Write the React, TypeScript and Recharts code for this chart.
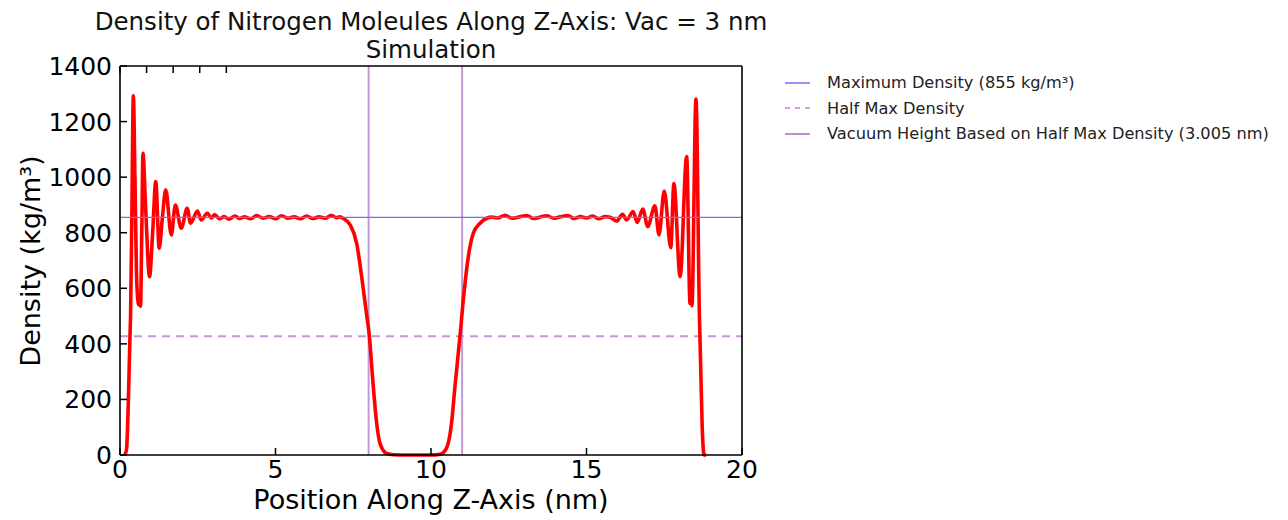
import React from 'react';
import { LineChart, Line, XAxis, YAxis, ReferenceLine } from 'recharts';

const positionNm = [
  0.15, 0.21, 0.27, 0.32, 0.34, 0.38, 0.43, 0.48, 0.54, 0.6, 0.63, 0.66, 0.7, 0.74, 0.82, 0.95,
  1.05, 1.15, 1.26, 1.36, 1.47, 1.65, 1.78, 1.97, 2.16, 2.27, 2.49, 2.61, 2.81, 2.94, 3.04,
  3.2, 3.35, 3.5, 3.7, 3.85, 4.0, 4.2, 4.4, 4.6, 4.8, 5.0, 5.2, 5.4, 5.6, 5.8, 6.0, 6.2, 6.4,
  6.6, 6.8, 6.95, 7.07, 7.17, 7.4, 7.61, 7.77, 7.91, 8.02, 8.12, 8.23, 8.36, 8.57, 8.8, 9.2,
  9.6, 10.0, 10.29, 10.5, 10.66, 10.77, 10.93, 11.06, 11.2, 11.36, 11.58, 11.79, 11.95, 12.15,
  12.38, 12.6, 12.85, 13.08, 13.3, 13.5, 13.72, 13.95, 14.15, 14.4, 14.6, 14.8, 15.0, 15.2,
  15.4, 15.6, 15.76, 15.97, 16.16, 16.29, 16.5, 16.63, 16.81, 16.97, 17.2, 17.33, 17.5, 17.71,
  17.81, 18.01, 18.22, 18.33, 18.36, 18.39, 18.52, 18.63, 18.72, 18.78, 18.85,
];

const densityKgM3 = [
  0, 20, 200, 425, 504, 850, 1293, 1000, 620, 540, 570, 535, 800, 1086, 900, 642,
  800, 984, 744, 850, 954, 792, 900, 816, 888, 834, 878, 846, 870, 852, 865,
  850, 858, 849, 860, 851, 857, 850, 862, 852, 858, 850, 861, 852, 857, 850, 860, 851, 857,
  852, 863, 854, 857, 852, 828, 762, 642, 522, 426, 282, 138, 42, 6, 1, 0,
  0, 0, 3, 25, 114, 246, 426, 582, 714, 798, 834, 852, 856, 853,
  863, 852, 857, 862, 851, 856, 861, 852, 857, 862, 851, 858, 853, 860,
  850, 858, 856, 842, 866, 846, 876, 837, 885, 822, 897, 792, 950, 746,
  977, 642, 1074, 545, 565, 537, 1281, 504, 100, 0, 0,
];

const xTicks = [0, 5, 10, 15, 20];
const yTicks = [0, 200, 400, 600, 800, 1000, 1200, 1400];

const maxDensity = 855;
const halfMaxDensity = 427.5;
const vacuumEdgesNm = [7.995, 11.0];

const legendItems = [
  { label: 'Maximum Density (855 kg/m³)', color: '#7878ff', dash: undefined },
  { label: 'Half Max Density', color: '#d27ad6', dash: '5 5' },
  { label: 'Vacuum Height Based on Half Max Density (3.005 nm)', color: '#b56cc8', dash: undefined },
];

const data = positionNm.map((x, i) => ({ x, density: densityKgM3[i] }));

const FONT = '"DejaVu Sans", sans-serif';
const TICK_LEN = 7;
const TICK_MARGIN = 8;
const TICK_FONT = 25;

const BottomTick = (props: any) => {
  const { x, y, payload } = props;
  const axisY = y - TICK_MARGIN;
  return (
    <g>
      <line x1={x} x2={x} y1={axisY} y2={axisY - TICK_LEN} stroke="#000" strokeWidth={1.5} />
      <text x={x} y={y - 4} dy="0.76em" textAnchor="middle" fontSize={TICK_FONT} fontFamily={FONT} fill="#000">
        {payload.value}
      </text>
    </g>
  );
};

const LeftTick = (props: any) => {
  const { x, y, payload } = props;
  const axisX = x + TICK_MARGIN;
  return (
    <g>
      <line x1={axisX} x2={axisX + TICK_LEN} y1={y} y2={y} stroke="#000" strokeWidth={1.5} />
      <text x={x} y={y} dy="0.36em" textAnchor="end" fontSize={TICK_FONT} fontFamily={FONT} fill="#000">
        {payload.value}
      </text>
    </g>
  );
};

const TopTick = (props: any) => (
  <line x1={props.x} x2={props.x} y1={props.y} y2={props.y + TICK_LEN} stroke="#000" strokeWidth={1.5} />
);

const RightTick = (props: any) => (
  <line x1={props.x} x2={props.x - TICK_LEN} y1={props.y} y2={props.y} stroke="#000" strokeWidth={1.5} />
);

const axisLine = { stroke: '#000', strokeWidth: 1.6 };

export default function App() {
  return (
    <div style={{ position: 'absolute', left: 0, top: 0, width: 1288, height: 520, background: '#fff', fontFamily: FONT }}>
      <div style={{ position: 'absolute', left: 60, width: 742, top: 8, textAlign: 'center', fontSize: 24.5, lineHeight: '28px', color: '#111' }}>
        Density of Nitrogen Moleules Along Z-Axis: Vac = 3 nm
        <br />
        Simulation
      </div>

      <LineChart width={1288} height={520} data={data} margin={{ top: 56, right: 536, bottom: 25, left: 40 }}>
        <XAxis
          dataKey="x"
          type="number"
          domain={[0, 20]}
          ticks={xTicks}
          height={40}
          tickSize={0}
          tickMargin={TICK_MARGIN}
          tickLine={false}
          axisLine={axisLine}
          tick={<BottomTick />}
        />
        <XAxis
          xAxisId="top"
          orientation="top"
          type="number"
          domain={[0, 20]}
          ticks={xTicks}
          height={10}
          tickSize={0}
          tickMargin={0}
          tickLine={false}
          axisLine={axisLine}
          tick={<TopTick />}
        />
        <YAxis
          type="number"
          domain={[0, 1400]}
          ticks={yTicks}
          width={80}
          tickSize={0}
          tickMargin={TICK_MARGIN}
          tickLine={false}
          axisLine={axisLine}
          tick={<LeftTick />}
        />
        <YAxis
          yAxisId="right"
          orientation="right"
          type="number"
          domain={[0, 1400]}
          ticks={yTicks}
          width={10}
          tickSize={0}
          tickMargin={0}
          tickLine={false}
          axisLine={axisLine}
          tick={<RightTick />}
        />
        <ReferenceLine y={halfMaxDensity} stroke="#c896d8" strokeWidth={2} strokeDasharray="8 6" />
        {vacuumEdgesNm.map((x) => (
          <ReferenceLine key={x} x={x} stroke="#c49ad6" strokeWidth={2} />
        ))}
        <Line
          dataKey="density"
          type="monotone"
          stroke="#ff0000"
          strokeWidth={3.6}
          dot={false}
          isAnimationActive={false}
        />
        <ReferenceLine y={maxDensity} stroke="#7070ff" strokeWidth={1.3} />
      </LineChart>

      <div style={{ position: 'absolute', left: 31, top: 261, width: 0, height: 0 }}>
        <div
          style={{
            position: 'absolute',
            left: 0,
            top: 0,
            transform: 'translate(-50%, -50%) rotate(-90deg)',
            whiteSpace: 'nowrap',
            fontSize: 27,
            lineHeight: '30px',
            color: '#000',
          }}
        >
          Density (kg/m³)
        </div>
      </div>

      <div style={{ position: 'absolute', left: 120, width: 622, top: 488, textAlign: 'center', fontSize: 27, lineHeight: '24px', color: '#000' }}>
        Position Along Z-Axis (nm)
      </div>

      <div style={{ position: 'absolute', left: 783, top: 70 }}>
        {legendItems.map((item) => (
          <div key={item.label} style={{ display: 'flex', alignItems: 'center', height: 25.5 }}>
            <svg width={30} height={10} style={{ marginRight: 14 }}>
              <line x1={2} x2={27} y1={5} y2={5} stroke={item.color} strokeWidth={1.6} strokeDasharray={item.dash} />
            </svg>
            <span style={{ fontSize: 16.2, color: '#222', whiteSpace: 'nowrap' }}>{item.label}</span>
          </div>
        ))}
      </div>
    </div>
  );
}
